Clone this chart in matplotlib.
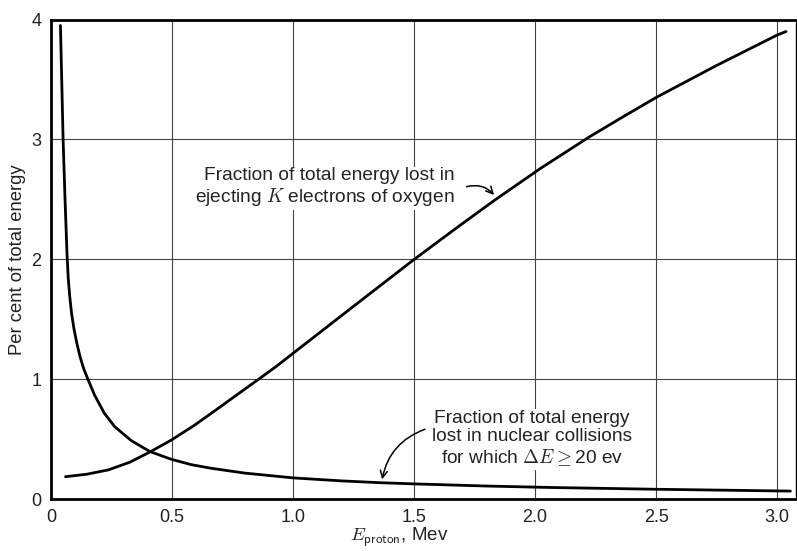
import matplotlib
matplotlib.use("Agg")
import matplotlib.pyplot as plt

plt.rcParams["font.family"] = ["Liberation Sans", "DejaVu Sans"]
plt.rcParams["mathtext.fontset"] = "cm"

# Proton energy (MeV) and per cent of total energy for each loss channel
k_shell_energy = [0.06, 0.146, 0.236, 0.325, 0.408, 0.497, 0.59, 0.676, 0.77,
                  0.855, 0.93, 1.0, 1.25, 1.5, 1.67, 1.83, 2.023, 2.223, 2.36,
                  2.5, 2.75, 3.0, 3.037]
k_shell_percent = [0.19, 0.21, 0.246, 0.31, 0.395, 0.495, 0.615, 0.738, 0.875,
                   0.998, 1.108, 1.218, 1.61, 2.0, 2.255, 2.49, 2.76, 3.02, 3.185,
                   3.35, 3.617, 3.87, 3.90]

nuclear_energy = [0.039, 0.05, 0.058, 0.066, 0.071, 0.077, 0.085, 0.095, 0.107,
                  0.12, 0.135, 0.153, 0.18, 0.22, 0.263, 0.332, 0.408, 0.497,
                  0.58, 0.662, 0.8, 1.0, 1.2, 1.357, 1.5, 1.8, 2.065, 2.505, 3.055]
nuclear_percent = [3.95, 3.0, 2.5, 2.05, 1.85, 1.70, 1.55, 1.42, 1.30,
                   1.19, 1.09, 1.0, 0.87, 0.72, 0.607, 0.49, 0.40, 0.335,
                   0.29, 0.26, 0.22, 0.18, 0.155, 0.14, 0.13, 0.112, 0.10, 0.085, 0.07]

x_ticks = [0, 0.5, 1.0, 1.5, 2.0, 2.5, 3.0]
x_tick_labels = ["0", "0.5", "1.0", "1.5", "2.0", "2.5", "3.0"]
y_ticks = [0, 1, 2, 3, 4]
y_tick_labels = ["0", "1", "2", "3", "4"]

ink = "#222222"

fig = plt.figure(figsize=(7.97, 5.51), dpi=100)
ax = fig.add_axes([0.064, 0.0935, 0.935, 0.8711])

ax.plot(k_shell_energy, k_shell_percent, color="black", lw=2.0,
        solid_joinstyle="round", solid_capstyle="round", zorder=3)
ax.plot(nuclear_energy, nuclear_percent, color="black", lw=2.0,
        solid_joinstyle="round", solid_capstyle="round", zorder=3)

ax.set_xlim(0.006, 3.079)
ax.set_ylim(0, 4)
ax.set_xticks(x_ticks)
ax.set_xticklabels(x_tick_labels)
ax.set_yticks(y_ticks)
ax.set_yticklabels(y_tick_labels)
ax.tick_params(axis="both", length=0, labelsize=13, colors=ink, pad=7)
ax.grid(True, color="#444444", lw=0.8)
ax.set_axisbelow(True)

for side in ["left", "bottom", "top"]:
    ax.spines[side].set_linewidth(2.0)
ax.spines["right"].set_linewidth(1.0)

ax.set_xlabel(r"$E_{\mathsf{proton}}$, Mev", fontsize=13.5, color=ink)
ax.xaxis.set_label_coords(0.468, -0.055)
ax.set_ylabel("Per cent of total energy", fontsize=13.3, color=ink)
ax.yaxis.set_label_coords(-0.034, 0.5)

ax.text(1.669, 2.60, "Fraction of total energy lost in\nejecting $K$ electrons of oxygen",
        ha="right", va="center", multialignment="right", fontsize=13.8,
        color=ink, linespacing=1.12,
        bbox=dict(boxstyle="square,pad=0.1", fc="white", ec="none"), zorder=4)
ax.annotate("", xy=(1.838, 2.52), xytext=(1.706, 2.60),
            arrowprops=dict(arrowstyle="->,head_length=0.5,head_width=0.25",
                            color="black", lw=1.1,
                            connectionstyle="arc3,rad=-0.35"), zorder=4)

ax.text(1.986, 0.504,
        "Fraction of total energy\nlost in nuclear collisions\nfor which $\\Delta E \\geq$20 ev",
        ha="center", va="center", multialignment="center", fontsize=13.8,
        color=ink, linespacing=1.12,
        bbox=dict(boxstyle="square,pad=0.1", fc="white", ec="none"), zorder=4)
ax.annotate("", xy=(1.366, 0.145), xytext=(1.556, 0.593),
            arrowprops=dict(arrowstyle="->,head_length=0.5,head_width=0.25",
                            color="black", lw=1.1,
                            connectionstyle="arc3,rad=0.3"), zorder=4)

fig.savefig("out.png", dpi=100, facecolor="white")
